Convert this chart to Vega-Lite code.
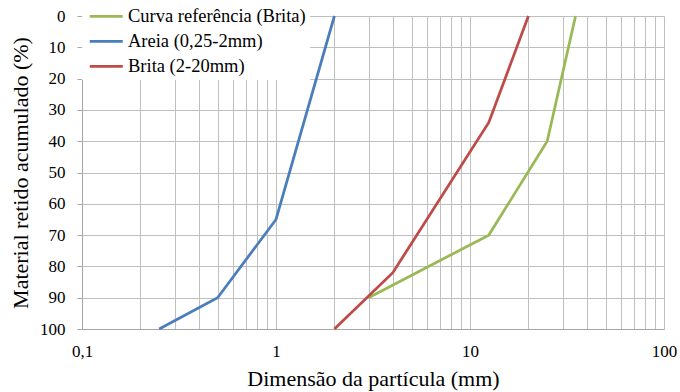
{
  "$schema": "https://vega.github.io/schema/vega-lite/v6.json",
  "width": 582,
  "height": 313,
  "autosize": "none",
  "padding": {"left": 82, "top": 16, "right": 16, "bottom": 63},
  "background": "white",
  "config": {"view": {"stroke": null}, "font": "'Liberation Serif', 'Times New Roman', 'DejaVu Serif', serif"},
  "data": {
    "values": [
      {"serie": "Curva referência (Brita)", "d": 35, "p": 0},
      {"serie": "Curva referência (Brita)", "d": 25, "p": 40},
      {"serie": "Curva referência (Brita)", "d": 12.5, "p": 70},
      {"serie": "Curva referência (Brita)", "d": 3, "p": 90},
      {"serie": "Areia (0,25-2mm)", "d": 2, "p": 0},
      {"serie": "Areia (0,25-2mm)", "d": 1, "p": 65},
      {"serie": "Areia (0,25-2mm)", "d": 0.5, "p": 90},
      {"serie": "Areia (0,25-2mm)", "d": 0.25, "p": 100},
      {"serie": "Brita (2-20mm)", "d": 20, "p": 0},
      {"serie": "Brita (2-20mm)", "d": 12.5, "p": 34},
      {"serie": "Brita (2-20mm)", "d": 4, "p": 82},
      {"serie": "Brita (2-20mm)", "d": 2, "p": 100}
    ]
  },
  "mark": {"type": "line", "strokeWidth": 2.75},
  "encoding": {
    "x": {
      "field": "d",
      "type": "quantitative",
      "scale": {"type": "log", "domain": [0.1, 100], "nice": false},
      "axis": {
        "values": [0.1, 0.2, 0.3, 0.4, 0.5, 0.6, 0.7, 0.8, 0.9, 1, 2, 3, 4, 5, 6, 7, 8, 9, 10, 20, 30, 40, 50, 60, 70, 80, 90, 100],
        "labelExpr": "datum.value === 0.1 ? '0,1' : (datum.value === 1 || datum.value === 10 || datum.value === 100) ? format(datum.value, 'd') : ''",
        "labelOverlap": false,
        "labelFlush": false,
        "ticks": false,
        "tickSize": 0,
        "labelPadding": 14,
        "labelFontSize": 17,
        "labelColor": "black",
        "grid": true,
        "gridColor": "#bfbfbf",
        "gridWidth": 1,
        "domainColor": "#a6a6a6",
        "title": "Dimensão da partícula (mm)",
        "titleFontSize": 22,
        "titleFontWeight": "normal",
        "titleColor": "black",
        "titlePadding": 9
      }
    },
    "y": {
      "field": "p",
      "type": "quantitative",
      "scale": {"domain": [0, 100], "reverse": true, "nice": false},
      "axis": {
        "values": [0, 10, 20, 30, 40, 50, 60, 70, 80, 90, 100],
        "tickSize": 5,
        "tickColor": "#a6a6a6",
        "labelPadding": 12,
        "labelFontSize": 17,
        "labelColor": "black",
        "grid": true,
        "gridColor": "#bfbfbf",
        "gridWidth": 1,
        "domainColor": "#a6a6a6",
        "title": "Material retido acumulado (%)",
        "titleFontSize": 22,
        "titleFontWeight": "normal",
        "titleColor": "black",
        "titlePadding": 7
      }
    },
    "color": {
      "field": "serie",
      "type": "nominal",
      "scale": {
        "domain": ["Curva referência (Brita)", "Areia (0,25-2mm)", "Brita (2-20mm)"],
        "range": ["#98B954", "#4A7EBB", "#BE4B48"]
      },
      "legend": {
        "orient": "none",
        "legendX": 0,
        "legendY": -13,
        "title": null,
        "fillColor": "white",
        "padding": 4,
        "symbolType": "M-1,0H5",
        "symbolSize": 121,
        "symbolStrokeWidth": 2.75,
        "labelFontSize": 18.5,
        "labelColor": "black",
        "labelOffset": 23.5,
        "rowPadding": 6,
        "labelLimit": 400
      }
    }
  }
}
